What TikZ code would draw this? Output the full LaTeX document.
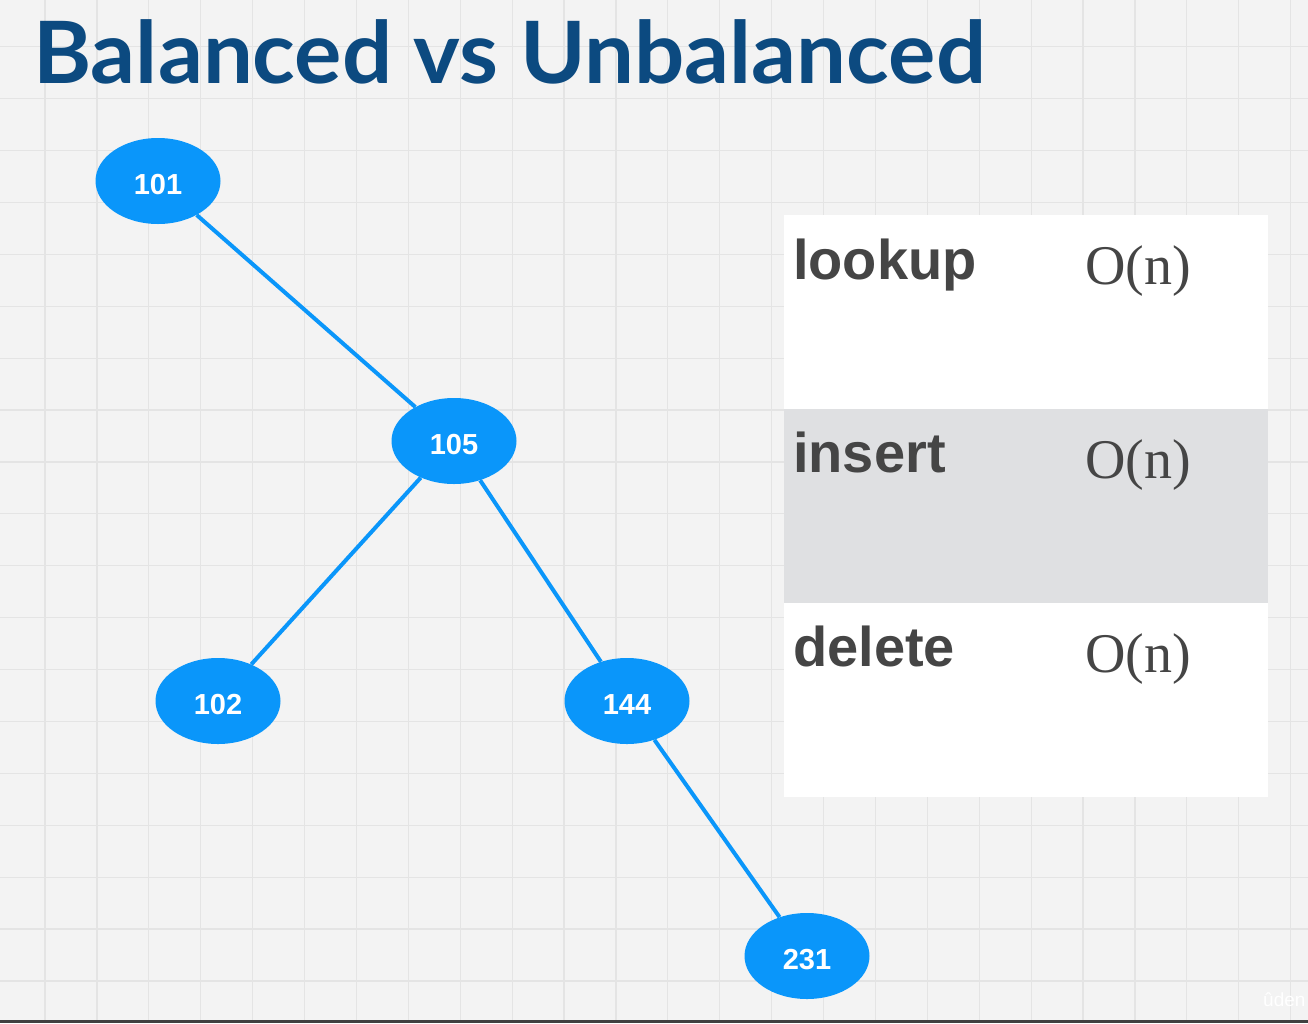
\documentclass[tikz,border=0pt]{standalone}
\usepackage{fontspec}
\setmainfont{Liberation Serif}
\setsansfont{Liberation Sans}
\newfontfamily\titlefont{Lato}
\usetikzlibrary{shapes.geometric}
\definecolor{bgc}{HTML}{F3F3F3}
\definecolor{gridc}{HTML}{E4E4E4}
\definecolor{nodeblue}{HTML}{0A96FA}
\definecolor{titleblue}{HTML}{0C4A80}
\definecolor{rowgray}{HTML}{DFE0E2}
\definecolor{txtgray}{HTML}{454545}
\tikzset{
  treenode/.style={ellipse, fill=nodeblue, minimum width=125pt, minimum height=86pt, inner sep=0pt,
    text height=27pt, text depth=0pt,
    text=white, font=\sffamily\bfseries\fontsize{29}{29}\selectfont},
  edge/.style={draw=nodeblue, line width=4pt},
  opname/.style={anchor=base west, text=txtgray, inner sep=0pt, font=\sffamily\bfseries\fontsize{56}{56}\selectfont},
  cost/.style={anchor=base west, text=txtgray, inner sep=0pt, font=\rmfamily\fontsize{56}{56}\selectfont},
}
\begin{document}
\begin{tikzpicture}[x=1pt,y=-1pt]
\useasboundingbox (0,0) rectangle (1308,1023);
\fill[bgc] (0,0) rectangle (1308,1023);
\foreach \i in {0,...,25} {
  \draw[gridc, line width=1.2pt] ({45+51.9*\i-51.9},0) -- ({45+51.9*\i-51.9},1023);
}
\foreach \i in {0,...,20} {
  \draw[gridc, line width=1.2pt] (0,{46.7+51.9*\i-51.9}) -- (1308,{46.7+51.9*\i-51.9});
}
% title
\node[anchor=base west, inner sep=0pt, text=titleblue, xscale=1.03, transform shape,
  font=\titlefont\bfseries\fontsize{86}{86}\selectfont] (title) at (33,83) {Balanced vs Unbalanced};
% table
\fill[white] (784,215) rectangle (1268,409);
\fill[rowgray] (784,409) rectangle (1268,603);
\fill[white] (784,603) rectangle (1268,797);
\node[opname] (l1) at (793,279) {lookup};
\node[cost] (c1) at (1085,284) {O(n)};
\node[opname] (l2) at (793,472) {insert};
\node[cost] (c2) at (1085,478) {O(n)};
\node[opname] (l3) at (793,666) {delete};
\node[cost] (c3) at (1085,672) {O(n)};
% tree
\node[treenode] (n101) at (158,181) {101};
\node[treenode] (n105) at (454,441) {105};
\node[treenode] (n102) at (218,701) {102};
\node[treenode] (n144) at (627,701) {144};
\node[treenode] (n231) at (807,956) {231};
\draw[edge] (n101) -- (n105);
\draw[edge] (n105) -- (n102);
\draw[edge] (n105) -- (n144);
\draw[edge] (n144) -- (n231);
% watermark
\node[anchor=base west, inner sep=0pt, text=white, font=\sffamily\fontsize{19}{19}\selectfont] (wm) at (1263,1006) {ûden};
\fill[black!75] (0,1020) rectangle (1308,1023);
\end{tikzpicture}
\end{document}
